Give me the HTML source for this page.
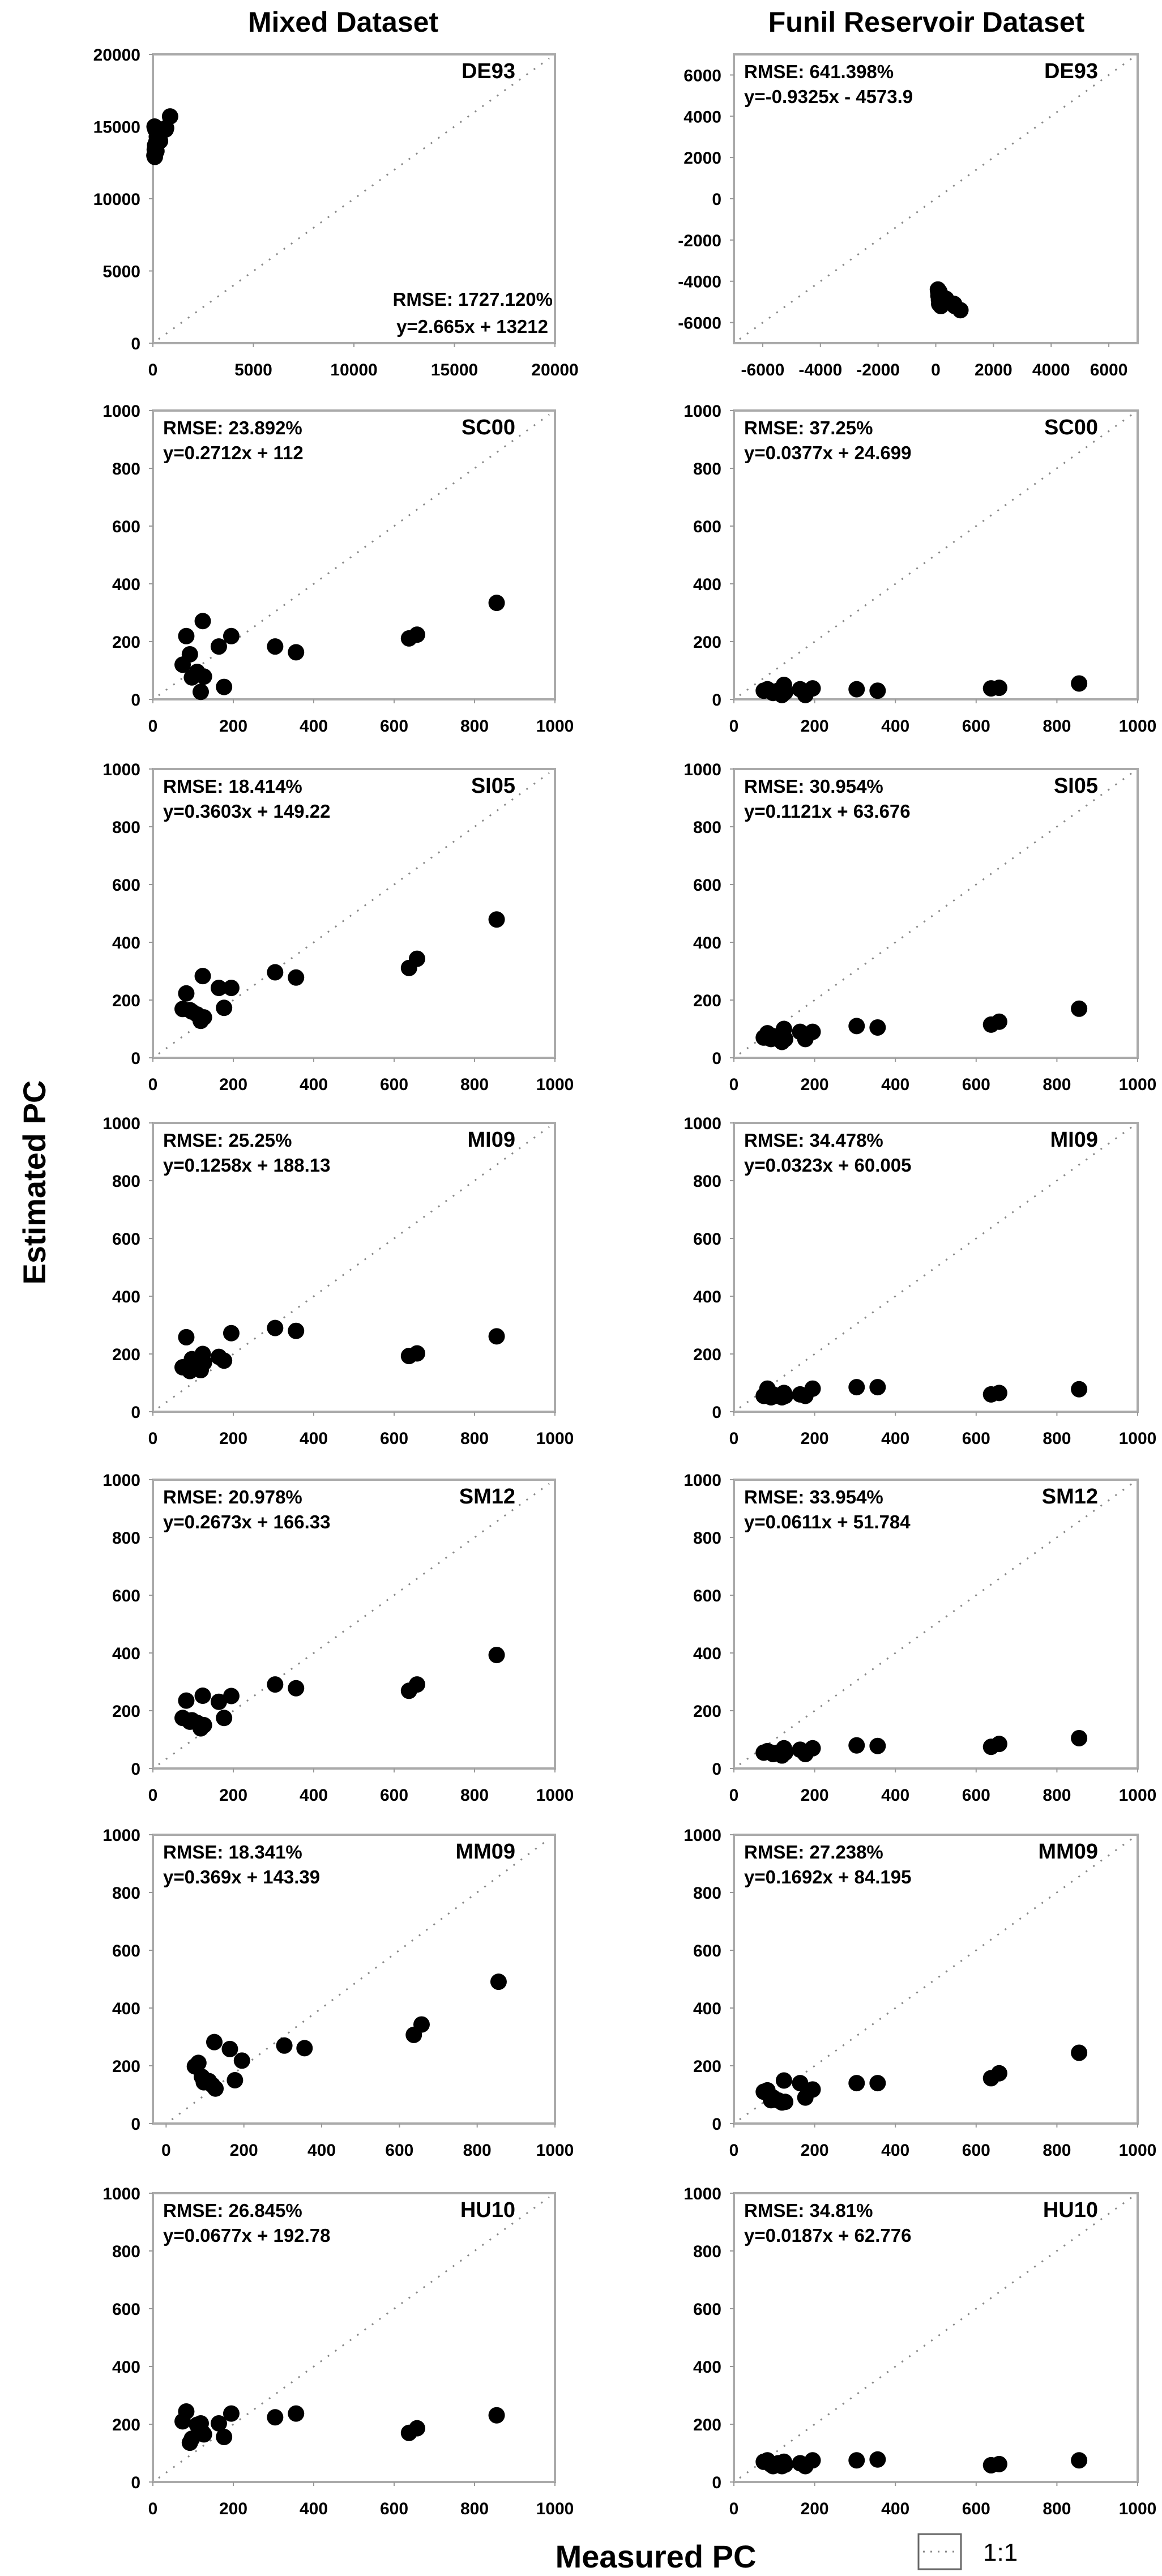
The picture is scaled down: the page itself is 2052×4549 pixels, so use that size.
<!DOCTYPE html>
<html><head><meta charset="utf-8">
<style>
html,body{margin:0;padding:0;background:#fff;}
svg{display:block;}
text{font-family:"Liberation Sans",Arial,sans-serif;font-weight:bold;fill:#000;}
</style></head>
<body>
<svg id="fig" width="2052" height="4549" viewBox="0 0 2052 4549" xmlns="http://www.w3.org/2000/svg">
<text x="606" y="56" font-size="50" text-anchor="middle">Mixed Dataset</text>
<text x="1636" y="56" font-size="50" text-anchor="middle">Funil Reservoir Dataset</text>
<text x="0" y="0" font-size="56" text-anchor="middle" transform="translate(80,2088) rotate(-90)">Estimated PC</text>
<text x="1158" y="4534" font-size="56" text-anchor="middle">Measured PC</text>
<g>
<rect x="1622" y="4475" width="75" height="62" fill="#fff" stroke="#666" stroke-width="3"/>
<line x1="1630" y1="4506" x2="1690" y2="4506" stroke="#888" stroke-width="3" stroke-dasharray="3,10"/>
<text x="1736" y="4522" font-size="44" font-weight="normal" style="font-weight:normal">1:1</text>
</g>
<g id="panels"></g>
</svg>
<script>
// Shared measured PC values
const measured = [74, 83, 92, 97, 110, 119, 124, 127, 164, 177, 195, 304, 356, 637, 657, 855];
// Panel names
const models = ["DE93","SC00","SI05","MI09","SM12","MM09","HU10"];
// Mixed dataset estimates
const mixDE93 = [13000,15000,13400,12900,13700,13200,14800,13500,13900,13300,14300,14100,14000,14800,14900,15700];
const mixSC00 = [120,219,156,76,95,26,271,79,183,43,219,183,163,211,224,334];
const mixSI05 = [169,223,165,160,150,128,283,140,242,173,242,296,278,311,343,479];
const mixMI09 = [154,258,141,182,160,144,200,170,190,177,272,290,280,193,202,261];
const mixSM12 = [175,235,162,167,158,139,252,150,231,175,251,291,278,269,291,393];
const mixMM09 = [198,210,162,143,147,133,282,121,258,150,218,270,261,307,343,491];
const mixHU10 = [210,244,136,150,198,203,170,165,203,156,237,224,237,170,186,231];
// Funil dataset estimates
const funDE93 = [-4400,-4500,-4700,-4600,-4900,-5100,-4500,-5000,-4800,-5200,-4700,-4900,-4850,-5100,-5200,-5400];
const funSC00 = [30,35,28,22,30,15,50,25,35,15,38,35,30,38,40,55];
const funSI05 = [70,85,65,75,70,55,100,65,90,65,90,110,105,115,125,170];
const funMI09 = [55,80,50,60,55,50,65,55,60,55,80,85,85,60,65,78];
const funSM12 = [55,60,55,50,55,45,70,55,65,50,70,80,78,75,85,105];
const funMM09 = [110,115,81,90,80,73,149,75,140,90,118,140,140,157,174,245];
const funHU10 = [70,75,60,55,65,55,70,60,65,55,75,75,78,58,62,75];
// Annotations
const mixRMSE = ["1727.120%","23.892%","18.414%","25.25%","20.978%","18.341%","26.845%"];
const mixEq = ["y=2.665x + 13212","y=0.2712x + 112","y=0.3603x + 149.22","y=0.1258x + 188.13","y=0.2673x + 166.33","y=0.369x + 143.39","y=0.0677x + 192.78"];
const funRMSE = ["641.398%","37.25%","30.954%","34.478%","33.954%","27.238%","34.81%"];
const funEq = ["y=-0.9325x - 4573.9","y=0.0377x + 24.699","y=0.1121x + 63.676","y=0.0323x + 60.005","y=0.0611x + 51.784","y=0.1692x + 84.195","y=0.0187x + 62.776"];
// Tick labels
const ticks1000 = [0,200,400,600,800,1000];
const ticksDE93mix = [0,5000,10000,15000,20000];
const ticksDE93fun = [-6000,-4000,-2000,0,2000,4000,6000];

const mixY = [mixDE93,mixSC00,mixSI05,mixMI09,mixSM12,mixMM09,mixHU10];
const funY = [funDE93,funSC00,funSI05,funMI09,funSM12,funMM09,funHU10];

const NS = "http://www.w3.org/2000/svg";
const root = document.getElementById("panels");
function mk(tag, attrs, parent){
  const e = document.createElementNS(NS, tag);
  for (const k in attrs) e.setAttribute(k, attrs[k]);
  parent.appendChild(e); return e;
}
const tops = [96,725,1358,1983,2613,3240,3873];
const H = 510;

function panel(col, i){
  const left = col===0 ? 270 : 1296;
  const W = col===0 ? 710 : 713;
  const top = tops[i];
  const name = (col===0?"mixed-":"funil-") + models[i].toLowerCase();
  let xmin=0,xmax=1000,ymin=0,ymax=1000,xt=ticks1000,yt=ticks1000;
  if(i===0 && col===0){xmax=20000;ymax=20000;xt=ticksDE93mix;yt=ticksDE93mix;}
  if(i===0 && col===1){xmin=-7000;xmax=7000;ymin=-7000;ymax=7000;xt=ticksDE93fun;yt=ticksDE93fun;}
  if(i===5 && col===0){xmin=-34;}
  const sx = v => left + (v-xmin)/(xmax-xmin)*W;
  const sy = v => top + H - (v-ymin)/(ymax-ymin)*H;
  const g = mk("g",{},root);
  
  
  const fr = mk("rect",{x:left,y:top,width:W,height:H,fill:"#fff",stroke:"#aaa","stroke-width":4},g);
  
  
  // ticks
  xt.forEach(v=>{
    const t = mk("line",{x1:sx(v),x2:sx(v),y1:top+H,y2:top+H+7,stroke:"#999","stroke-width":2},g);
    
    
    const l = mk("text",{x:sx(v),y:top+H+57,"font-size":30,"text-anchor":"middle"},g);
    l.textContent = v;
    
    
  });
  yt.forEach(v=>{
    const t = mk("line",{x1:left-7,x2:left,y1:sy(v),y2:sy(v),stroke:"#999","stroke-width":2},g);
    
    
    const l = mk("text",{x:left-22,y:sy(v)+11,"font-size":30,"text-anchor":"end"},g);
    l.textContent = v;
    
    
  });
  // 1:1 line
  const a = Math.max(xmin,ymin), b = Math.min(xmax,ymax);
  const ln = mk("line",{x1:sx(a)+10,y1:sy(a)-7,x2:sx(b)-10,y2:sy(b)+7,stroke:"#888","stroke-width":3,"stroke-dasharray":"3,13"},g);
  
  
  // points
  const ys = col===0 ? mixY[i] : funY[i];
  measured.forEach((xv,k)=>{
    const c = mk("circle",{cx:sx(xv),cy:sy(ys[k]),r:14.5,fill:"#000"},g);
    
    
  });
  // labels
  const lab = mk("text",{x:left+W-70,y:top+42,"font-size":38,"text-anchor":"end"},g);
  lab.textContent = models[i];
  
  
  const r = col===0 ? mixRMSE[i] : funRMSE[i];
  const e = col===0 ? mixEq[i] : funEq[i];
  let r1, r2;
  if(i===0 && col===0){
    r1 = mk("text",{x:left+W-4,y:top+444,"font-size":33,"text-anchor":"end"},g);
    r2 = mk("text",{x:left+W-12,y:top+492,"font-size":33,"text-anchor":"end"},g);
  } else {
    r1 = mk("text",{x:left+18,y:top+42,"font-size":33},g);
    r2 = mk("text",{x:left+18,y:top+86,"font-size":33},g);
  }
  r1.textContent = "RMSE: " + r;
  
  
  r2.textContent = e;
  
  
}
for(let i=0;i<7;i++){panel(0,i);panel(1,i);}
</script>
</body></html>
